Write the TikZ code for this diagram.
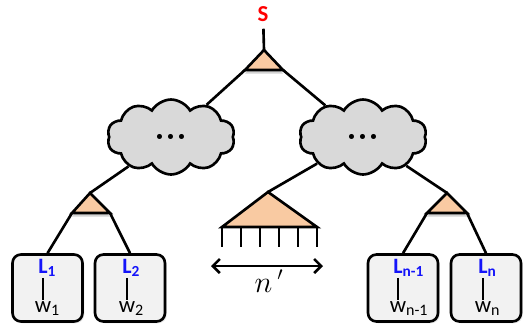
\documentclass[tikz,border=0pt]{standalone}
\usepackage{fontspec}
\setsansfont{Carlito}
\usetikzlibrary{shapes.symbols,shadows,arrows.meta}
\definecolor{peach}{RGB}{249,202,162}
\definecolor{cloudgray}{RGB}{217,217,217}
\definecolor{boxgray}{RGB}{242,242,242}
\definecolor{lblue}{RGB}{20,20,250}

\begin{document}
\begin{tikzpicture}[x=0.02cm,y=-0.02cm,line width=1.5pt,font=\sffamily,
    tri/.style={fill=peach,draw=black,line join=miter,
      drop shadow={shadow xshift=0pt,shadow yshift=-2pt,opacity=.35}},
    cloudnode/.style={cloud,cloud puffs=10,cloud puff arc=120,aspect=1.8,
      draw,fill=cloudgray,minimum width=2.55cm,minimum height=1.5cm,inner sep=0pt,
      font=\fontsize{20}{20}\bfseries},
    leaf/.style={draw,fill=boxgray,rounded corners=0.17cm,minimum width=1.4cm,
      minimum height=1.34cm,inner sep=0pt,
      drop shadow={shadow xshift=1pt,shadow yshift=-1pt,opacity=.2}},
    lab/.style={anchor=base,inner xsep=0pt,inner ysep=2pt,text depth=0pt,
      text=lblue,font=\fontsize{12.5}{14}\sffamily\bfseries},
    word/.style={anchor=base,inner xsep=0pt,inner ysep=2pt,text depth=0pt,
      text height=1ex,font=\fontsize{13}{14}\sffamily}]
  \useasboundingbox (0,0) rectangle (523,325);

  \node[text=red,font=\fontsize{13}{14}\sffamily\bfseries] (s) at (263,14) {S};
  \coordinate (t0) at (264,50);
  \coordinate (t0l) at (245,70);
  \coordinate (t0r) at (283,70);
  \coordinate (t1) at (90,193);
  \coordinate (t1l) at (72,213);
  \coordinate (t1r) at (110,213);
  \coordinate (t2) at (447,193);
  \coordinate (t2l) at (427,213);
  \coordinate (t2r) at (467,213);
  \coordinate (t3) at (268,192);
  \coordinate (t3l) at (222,227);
  \coordinate (t3r) at (317,227);

  \node[cloudnode] (cl) at (171,137) {...};
  \node[cloudnode] (cr) at (363,137) {...};

  \node[leaf] (b1) at (47.5,288) {};
  \node[leaf] (b2) at (130,288) {};
  \node[leaf] (b3) at (403,288) {};
  \node[leaf] (b4) at (486,288) {};

  \draw (s) -- (t0);
  \draw (t0l) -- (cl);
  \draw (t0r) -- (cr);
  \draw (cl) -- (t1);
  \draw (cr) -- (t2);
  \draw (cr) -- (t3);
  \draw (t1l) -- (b1.north);
  \draw (t1r) -- (b2.north);
  \draw (t2l) -- (b3.north);
  \draw (t2r) -- (b4.north);

  \filldraw[tri] (t0) -- (t0l) -- (t0r) -- cycle;
  \filldraw[tri] (t1) -- (t1l) -- (t1r) -- cycle;
  \filldraw[tri] (t2) -- (t2l) -- (t2r) -- cycle;
  \filldraw[fill=peach,line join=miter] (t3) -- (t3l) -- (t3r) -- cycle;
  \foreach \i in {0,...,5}
    \draw (222+\i*19,227) -- ++(0,20);

  \coordinate (al) at (211,266);
  \coordinate (ar) at (323,266);
  \draw[{Straight Barb[length=4pt,width=8pt]}-{Straight Barb[length=4pt,width=8pt]}] (al) -- (ar);
  \node[anchor=base] (np) at (269,292) {\fontsize{16}{18}\selectfont$n\,'$};

  \node[lab] (l1) at (43,273) {L\rlap{\textsubscript{1}}};
  \node[word] (w1) at (43,312) {w\rlap{\textsubscript{1}}};
  \node[lab] (l2) at (127,273) {L\rlap{\textsubscript{2}}};
  \node[word] (w2) at (127,312) {w\rlap{\textsubscript{2}}};
  \node[lab] (l3) at (398,273) {L\rlap{\textsubscript{n-1}}};
  \node[word] (w3) at (398,312) {w\rlap{\textsubscript{n-1}}};
  \node[lab] (l4) at (483,273) {L\rlap{\textsubscript{n}}};
  \node[word] (w4) at (483,312) {w\rlap{\textsubscript{n}}};
  \draw[line width=1.1pt] (l1) -- (w1);
  \draw[line width=1.1pt] (l2) -- (w2);
  \draw[line width=1.1pt] (l3) -- (w3);
  \draw[line width=1.1pt] (l4) -- (w4);
\end{tikzpicture}
\end{document}
